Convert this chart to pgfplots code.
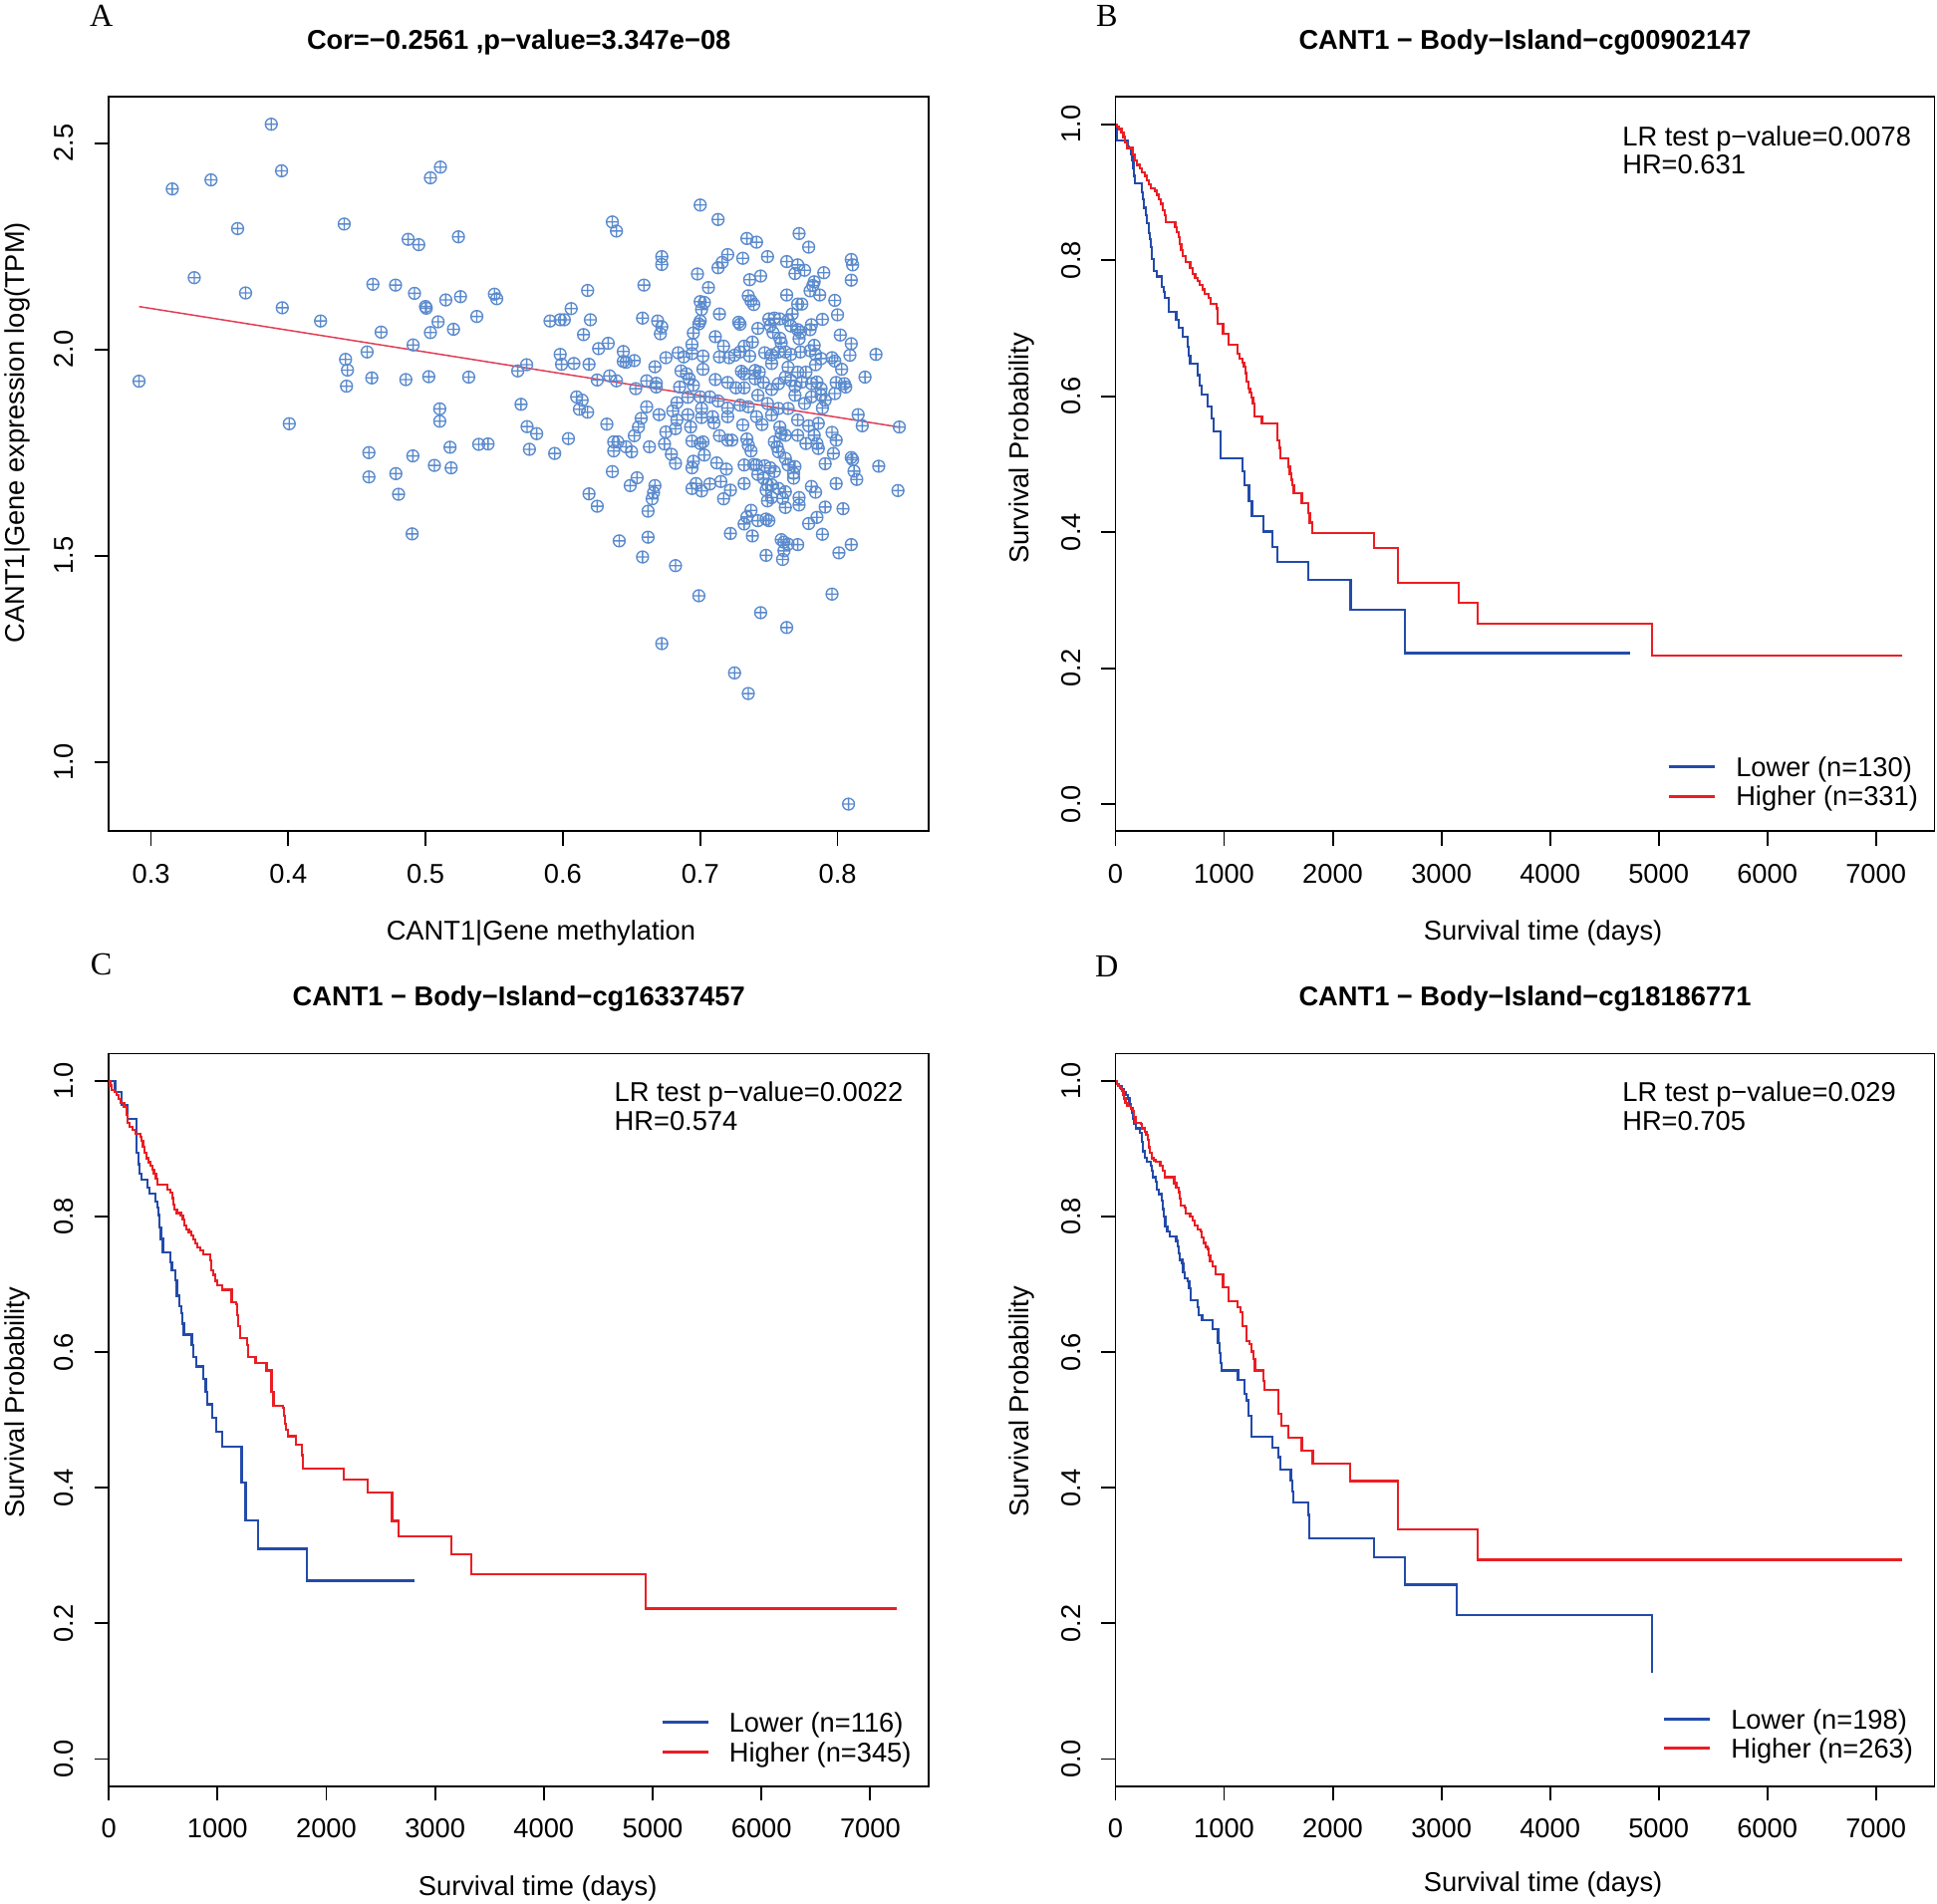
\documentclass[border=0pt]{standalone}
\usepackage{fontspec}
\setmainfont{Liberation Sans}
\newfontfamily\letterfont{Liberation Serif}
\usepackage{pgfplots}
\pgfplotsset{compat=1.18}

\definecolor{kmblue}{RGB}{35,75,170}
\definecolor{kmred}{RGB}{235,30,35}
\definecolor{scatblue}{RGB}{91,139,206}
\definecolor{regred}{RGB}{225,60,85}

\newcommand{\fs}{\fontsize{11}{13}\selectfont}
\newcommand{\lrfont}{\fontsize{11}{11.5}\selectfont}

\pgfplotsset{
 rbase/.style={
  scale only axis, clip=true,
  axis line style={line width=0.75pt},
  tick style={line width=0.75pt, black},
  tick align=outside, major tick length=5.8pt, tick pos=left,
  minor tick num=0,
  label style={font=\fs, inner sep=0pt},
  tick label style={font=\fs},
  /pgf/number format/assume math mode=true,
  xticklabel style={inner sep=0pt, anchor=north},
  yticklabel style={inner sep=0pt, rotate=90, anchor=south},
  xticklabel shift=7.2pt, yticklabel shift=8.2pt,
  every axis title shift=0pt,
  title style={font=\bfseries\fs, inner sep=0pt, anchor=base, at={(axis description cs:0.5,1.065)}},
  scaled ticks=false,
 },
 km/.style={rbase,
  xmin=0, xmax=7540, ymin=-0.04, ymax=1.04,
  xtick={0,1000,2000,3000,4000,5000,6000,7000},
  xticklabels={0,1000,2000,3000,4000,5000,6000,7000},
  ytick={0,0.2,0.4,0.6,0.8,1.0}, yticklabels={0.0,0.2,0.4,0.6,0.8,1.0},
  xlabel={Survival time (days)}, ylabel={Survival Probability},
  legend cell align=left,
  legend image code/.code={\draw[##1, line width=1.2pt] (0pt,0pt) -- (18.5pt,0pt);},
  legend style={draw=none, fill=none, inner sep=0pt, outer sep=0pt, row sep=3.75pt, column sep=8pt, font=\fs, nodes={inner sep=0pt, text height=8pt, text depth=0pt}},
 },
 kmb/.style={const plot, kmblue, line width=0.9pt},
 kmr/.style={const plot, kmred, line width=0.9pt},
}

\begin{document}
\begin{tikzpicture}
\path (0,0) rectangle (784pt,-770.5pt);

\node[font=\letterfont\fontsize{13}{15}\selectfont, anchor=base, inner sep=0pt] at (41pt,-10.5pt) {A};
\node[font=\letterfont\fontsize{13}{15}\selectfont, anchor=base, inner sep=0pt] at (448pt,-10.5pt) {B};
\node[font=\letterfont\fontsize{13}{15}\selectfont, anchor=base, inner sep=0pt] at (41pt,-394.5pt) {C};
\node[font=\letterfont\fontsize{13}{15}\selectfont, anchor=base, inner sep=0pt] at (448pt,-395.5pt) {D};

% ---------------- Panel A ----------------
\begin{axis}[rbase, at={(44pt,-336.5pt)}, anchor=south west, width=332pt, height=297.25pt,
  xmin=0.2692, xmax=0.8666, ymin=0.832, ymax=2.612,
  xtick={0.3,0.4,0.5,0.6,0.7,0.8}, xticklabels={0.3,0.4,0.5,0.6,0.7,0.8},
  ytick={1.0,1.5,2.0,2.5}, yticklabels={1.0,1.5,2.0,2.5},
  title={Cor=−0.2561 ,p−value=3.347e−08},
  xlabel={CANT1|Gene methylation}, ylabel={CANT1|Gene expression log(TPM)},
  xlabel style={at={(axis description cs:0.527,-0.148)}, anchor=base},
  ylabel style={at={(axis description cs:-0.1024,0.543)}, anchor=base}]
\addplot[only marks, mark=oplus, mark size=2.4pt, scatblue, mark options={line width=0.55pt}] coordinates {
(0.2913,1.923)(0.3155,2.389)(0.3437,2.411)(0.3876,2.546)(0.3951,2.433)(0.3631,2.293)(0.3315,2.174)(0.3689,2.137)(0.3956,2.101)(0.4007,1.820)(0.4235,2.069)(0.4407,2.304)(0.4417,1.976)(0.4431,1.950)(0.4424,1.911)(0.4574,1.994)(0.4616,2.158)(0.4608,1.931)(0.4676,2.042)(0.4781,2.156)(0.4873,2.267)(0.4950,2.254)(0.4919,2.136)(0.4999,2.104)(0.5005,2.100)(0.4909,2.011)(0.4856,1.927)(0.5023,1.934)(0.5035,2.416)(0.5108,2.442)(0.5091,2.067)(0.5035,2.041)(0.5147,2.120)(0.5254,2.128)(0.5203,2.049)(0.5239,2.273)(0.5373,2.080)(0.5501,2.134)(0.5518,2.123)(0.5314,1.933)(0.5103,1.856)(0.5103,1.826)(0.4587,1.750)(0.4907,1.742)(0.4587,1.691)(0.4783,1.699)(0.4803,1.649)(0.4902,1.553)(0.5064,1.719)(0.5186,1.713)(0.5178,1.763)(0.5387,1.770)(0.5455,1.771)(0.5671,1.948)(0.5736,1.963)(0.5695,1.867)(0.5739,1.813)(0.5809,1.796)(0.5756,1.758)(0.5940,1.748)(0.5906,2.069)
(0.700,2.350)(0.713,2.315)(0.636,2.309)(0.639,2.287)(0.772,2.281)(0.734,2.269)(0.741,2.260)(0.779,2.248)(0.720,2.230)(0.716,2.211)(0.713,2.198)(0.731,2.221)(0.749,2.225)(0.672,2.225)(0.672,2.206)(0.763,2.213)(0.771,2.205)(0.776,2.192)(0.769,2.184)(0.810,2.218)(0.811,2.205)(0.810,2.168)(0.790,2.186)(0.698,2.183)(0.744,2.178)(0.736,2.169)(0.659,2.156)(0.618,2.143)(0.706,2.150)(0.783,2.164)(0.782,2.155)(0.780,2.142)(0.787,2.132)(0.763,2.132)(0.735,2.130)(0.737,2.118)(0.739,2.109)(0.798,2.119)(0.700,2.116)(0.703,2.114)(0.701,2.097)(0.771,2.110)(0.774,2.110)(0.606,2.099)(0.714,2.086)(0.800,2.084)(0.767,2.086)(0.598,2.072)(0.601,2.072)(0.620,2.072)(0.658,2.076)(0.669,2.069)(0.672,2.055)(0.671,2.038)(0.700,2.069)(0.699,2.062)(0.728,2.066)(0.729,2.061)(0.750,2.074)(0.754,2.076)(0.758,2.074)(0.764,2.071)(0.751,2.058)(0.753,2.041)(0.766,2.057)(0.771,2.048)(0.773,2.042)(0.772,2.026)(0.781,2.060)(0.780,2.048)(0.789,2.073)(0.742,2.051)(0.695,2.040)(0.711,2.031)(0.615,2.036)(0.802,2.035)(0.758,2.027)(0.759,2.016)(0.810,2.014)(0.633,2.015)(0.626,2.002)(0.694,2.012)(0.717,2.008)(0.738,2.018)(0.783,2.010)(0.598,1.988)(0.644,1.995)(0.644,1.971)(0.646,1.969)(0.652,1.973)(0.684,1.992)(0.688,1.982)(0.694,1.990)(0.702,1.984)(0.714,1.982)(0.721,1.980)(0.725,1.986)(0.729,1.994)(0.732,2.008)(0.736,1.984)(0.747,1.992)(0.752,1.987)(0.757,1.994)(0.762,1.994)(0.766,1.988)(0.773,1.994)(0.780,1.997)(0.784,1.988)(0.788,1.978)(0.784,1.963)(0.796,1.980)(0.798,1.972)(0.803,1.952)(0.809,1.986)(0.828,1.988)(0.599,1.964)(0.608,1.966)(0.619,1.964)(0.667,1.958)(0.675,1.980)(0.686,1.948)(0.690,1.941)(0.692,1.929)(0.702,1.952)(0.730,1.947)(0.732,1.941)(0.740,1.949)(0.743,1.945)(0.752,1.966)(0.764,1.957)(0.771,1.945)(0.777,1.945)(0.820,1.933)(0.625,1.926)(0.634,1.936)(0.639,1.924)(0.653,1.905)(0.661,1.924)(0.668,1.909)(0.668,1.918)(0.685,1.909)(0.695,1.913)(0.711,1.927)(0.720,1.920)(0.726,1.907)(0.732,1.907)(0.740,1.929)(0.746,1.920)(0.752,1.903)(0.757,1.917)(0.762,1.933)(0.766,1.925)(0.769,1.911)(0.774,1.921)(0.781,1.917)(0.785,1.921)(0.788,1.905)(0.799,1.920)(0.806,1.909)(0.805,1.917)(0.610,1.885)(0.614,1.877)(0.612,1.855)(0.618,1.848)(0.661,1.861)(0.670,1.842)(0.680,1.851)(0.683,1.871)(0.691,1.884)(0.700,1.885)(0.707,1.885)(0.713,1.875)(0.720,1.858)(0.729,1.865)(0.735,1.861)(0.742,1.889)(0.749,1.869)(0.757,1.857)(0.764,1.857)(0.769,1.889)(0.776,1.869)(0.781,1.885)(0.788,1.889)(0.791,1.877)(0.789,1.858)(0.798,1.893)(0.815,1.842)(0.818,1.815)(0.845,1.812)(0.632,1.819)(0.657,1.833)(0.655,1.812)(0.652,1.791)(0.683,1.829)(0.682,1.808)(0.693,1.812)(0.691,1.842)(0.701,1.857)(0.701,1.835)(0.709,1.837)(0.710,1.822)(0.720,1.837)(0.731,1.817)(0.741,1.837)(0.745,1.818)(0.752,1.841)(0.758,1.812)(0.759,1.796)(0.762,1.792)(0.771,1.829)(0.771,1.792)(0.779,1.815)(0.786,1.821)(0.783,1.792)(0.796,1.799)(0.799,1.780)(0.604,1.784)(0.637,1.776)(0.640,1.776)(0.637,1.754)(0.646,1.764)(0.650,1.752)(0.663,1.764)(0.674,1.771)(0.675,1.800)(0.679,1.746)(0.694,1.778)(0.700,1.772)(0.702,1.776)(0.703,1.744)(0.714,1.791)(0.720,1.780)(0.723,1.780)(0.734,1.783)(0.735,1.768)(0.737,1.754)(0.754,1.776)(0.756,1.764)(0.757,1.752)(0.777,1.772)(0.785,1.772)(0.786,1.760)(0.797,1.748)(0.810,1.738)
(0.636,1.704)(0.619,1.650)(0.625,1.620)(0.649,1.670)(0.654,1.689)(0.667,1.670)(0.666,1.653)(0.665,1.638)(0.662,1.608)(0.682,1.724)(0.694,1.713)(0.695,1.729)(0.694,1.663)(0.697,1.675)(0.701,1.657)(0.707,1.674)(0.715,1.680)(0.712,1.725)(0.719,1.710)(0.717,1.638)(0.722,1.659)(0.732,1.675)(0.732,1.720)(0.739,1.721)(0.741,1.720)(0.747,1.718)(0.751,1.713)(0.754,1.704)(0.742,1.697)(0.746,1.688)(0.749,1.672)(0.752,1.672)(0.757,1.663)(0.762,1.655)(0.748,1.659)(0.749,1.633)(0.752,1.641)(0.760,1.639)(0.762,1.617)(0.762,1.736)(0.764,1.720)(0.769,1.716)(0.768,1.700)(0.768,1.688)(0.772,1.641)(0.772,1.623)(0.781,1.668)(0.784,1.654)(0.791,1.723)(0.799,1.675)(0.811,1.733)(0.812,1.705)(0.814,1.685)(0.830,1.717)(0.844,1.658)(0.737,1.610)(0.734,1.594)(0.732,1.577)(0.742,1.585)(0.748,1.589)(0.750,1.585)(0.722,1.554)(0.738,1.548)(0.779,1.578)(0.785,1.593)(0.791,1.618)(0.804,1.614)(0.789,1.552)(0.759,1.539)(0.761,1.533)(0.764,1.528)(0.771,1.527)(0.761,1.512)(0.748,1.501)(0.760,1.491)(0.801,1.507)(0.810,1.527)(0.641,1.536)(0.662,1.545)(0.658,1.497)(0.682,1.476)(0.699,1.403)(0.796,1.407)(0.744,1.362)(0.763,1.326)(0.672,1.287)(0.725,1.216)(0.735,1.166)(0.808,0.898)
};
\addplot[regred, line width=0.6pt] coordinates {(0.2913,2.104) (0.8445,1.812)};
\end{axis}

% ---------------- Panel B ----------------
\begin{axis}[km, at={(451.5pt,-336.5pt)}, anchor=south west, width=331.5pt, height=297.25pt,
  title={CANT1 − Body−Island−cg00902147},
  xlabel style={at={(axis description cs:0.522,-0.148)}, anchor=base},
  ylabel style={at={(axis description cs:-0.1056,0.5215)}, anchor=base},
  legend style={at={(axis description cs:0.674,0.1009)}, anchor=north west}]
\addplot[kmb] coordinates {(0,1.000)(12,0.976)(109,0.967)(125,0.964)(140,0.955)(155,0.947)(164,0.935)(170,0.924)(179,0.913)(246,0.900)(255,0.889)(264,0.877)(277,0.866)(292,0.854)(307,0.840)(316,0.831)(328,0.819)(337,0.802)(353,0.784)(377,0.776)(423,0.761)(444,0.753)(456,0.744)(492,0.724)(559,0.712)(581,0.700)(620,0.687)(663,0.673)(675,0.660)(687,0.648)(754,0.631)(772,0.616)(793,0.602)(845,0.585)(888,0.567)(900,0.548)(970,0.509)(1167,0.490)(1189,0.469)(1228,0.446)(1256,0.424)(1365,0.401)(1441,0.378)(1490,0.356)(1778,0.330)(2164,0.286)(2666,0.222)(4734,0.222)};
\addlegendentry{Lower (n=130)}
\addplot[kmr] coordinates {(0,1.000)(12,0.997)(33,0.993)(55,0.988)(73,0.981)(88,0.973)(103,0.965)(161,0.955)(179,0.947)(195,0.940)(225,0.935)(246,0.929)(268,0.924)(286,0.917)(307,0.911)(328,0.906)(359,0.902)(377,0.896)(398,0.890)(420,0.883)(438,0.874)(453,0.866)(465,0.856)(550,0.848)(565,0.841)(581,0.834)(593,0.824)(605,0.815)(617,0.806)(648,0.797)(687,0.789)(711,0.780)(733,0.774)(754,0.769)(778,0.763)(800,0.757)(818,0.750)(854,0.744)(879,0.736)(930,0.729)(942,0.706)(991,0.692)(1040,0.676)(1125,0.663)(1143,0.655)(1167,0.649)(1183,0.643)(1195,0.634)(1207,0.621)(1222,0.611)(1237,0.605)(1252,0.598)(1265,0.589)(1280,0.570)(1347,0.560)(1493,0.535)(1508,0.524)(1520,0.509)(1590,0.496)(1605,0.486)(1617,0.477)(1629,0.469)(1642,0.457)(1715,0.443)(1772,0.428)(1788,0.414)(1812,0.399)(2377,0.377)(2602,0.325)(3162,0.296)(3331,0.265)(4937,0.218)(7244,0.218)};
\addlegendentry{Higher (n=331)}
\node[anchor=north west, inner sep=0pt, align=left, font=\lrfont] at (axis description cs:0.6184,0.9613) {LR test p−value=0.0078\\HR=0.631};
\end{axis}

% ---------------- Panel C ----------------
\begin{axis}[km, at={(44pt,-723pt)}, anchor=south west, width=332pt, height=296.5pt,
  title={CANT1 − Body−Island−cg16337457},
  xlabel style={at={(axis description cs:0.523,-0.149)}, anchor=base},
  ylabel style={at={(axis description cs:-0.1024,0.5236)}, anchor=base},
  legend style={at={(axis description cs:0.673,0.1003)}, anchor=north west}]
\addplot[kmb] coordinates {(0,1.000)(58,0.983)(116,0.964)(170,0.944)(255,0.894)(271,0.877)(283,0.863)(298,0.854)(353,0.842)(377,0.834)(432,0.822)(447,0.813)(459,0.802)(468,0.784)(480,0.767)(499,0.747)(565,0.732)(581,0.721)(614,0.706)(626,0.683)(651,0.668)(666,0.657)(678,0.642)(690,0.626)(763,0.610)(778,0.593)(803,0.579)(869,0.561)(891,0.541)(906,0.523)(952,0.503)(988,0.483)(1043,0.461)(1222,0.408)(1259,0.352)(1374,0.310)(1821,0.263)(2815,0.263)};
\addlegendentry{Lower (n=116)}
\addplot[kmr] coordinates {(0,1.000)(12,0.993)(30,0.987)(55,0.984)(73,0.979)(91,0.973)(109,0.967)(140,0.961)(164,0.950)(173,0.938)(188,0.932)(216,0.928)(246,0.922)(289,0.917)(301,0.911)(316,0.903)(328,0.894)(344,0.886)(365,0.880)(383,0.875)(401,0.869)(416,0.863)(435,0.856)(450,0.847)(541,0.840)(565,0.835)(584,0.827)(593,0.818)(605,0.810)(626,0.805)(663,0.801)(681,0.795)(693,0.787)(711,0.781)(736,0.777)(757,0.772)(778,0.766)(796,0.760)(815,0.754)(839,0.750)(869,0.744)(930,0.735)(942,0.721)(961,0.714)(979,0.705)(994,0.699)(1043,0.692)(1131,0.674)(1170,0.671)(1180,0.654)(1192,0.638)(1207,0.621)(1271,0.610)(1283,0.593)(1350,0.584)(1450,0.573)(1496,0.541)(1514,0.521)(1599,0.518)(1608,0.506)(1620,0.494)(1632,0.485)(1645,0.476)(1718,0.464)(1775,0.448)(1788,0.428)(2164,0.412)(2380,0.393)(2605,0.351)(2666,0.328)(3150,0.302)(3331,0.273)(4938,0.222)(7240,0.222)};
\addlegendentry{Higher (n=345)}
\node[anchor=north west, inner sep=0pt, align=left, font=\lrfont] at (axis description cs:0.616,0.962) {LR test p−value=0.0022\\HR=0.574};
\end{axis}

% ---------------- Panel D ----------------
\begin{axis}[km, at={(451.5pt,-723pt)}, anchor=south west, width=331.5pt, height=296.5pt,
  title={CANT1 − Body−Island−cg18186771},
  xlabel style={at={(axis description cs:0.522,-0.144)}, anchor=base},
  ylabel style={at={(axis description cs:-0.1056,0.525)}, anchor=base},
  legend style={at={(axis description cs:0.668,0.1054)}, anchor=north west}]
\addplot[kmb] coordinates {(0,1.000)(12,0.995)(33,0.992)(55,0.988)(73,0.984)(91,0.979)(116,0.974)(128,0.966)(140,0.960)(155,0.953)(161,0.944)(170,0.936)(185,0.930)(225,0.923)(243,0.910)(255,0.896)(271,0.887)(292,0.881)(322,0.875)(331,0.867)(347,0.858)(371,0.851)(380,0.840)(401,0.833)(426,0.823)(438,0.811)(447,0.800)(459,0.785)(477,0.778)(496,0.771)(559,0.764)(572,0.756)(584,0.746)(593,0.736)(614,0.731)(623,0.718)(638,0.709)(666,0.704)(678,0.694)(690,0.677)(754,0.666)(769,0.655)(797,0.647)(891,0.634)(945,0.613)(955,0.599)(967,0.584)(979,0.573)(1128,0.559)(1189,0.538)(1204,0.529)(1222,0.506)(1253,0.475)(1447,0.459)(1496,0.445)(1520,0.427)(1614,0.411)(1626,0.395)(1639,0.378)(1772,0.360)(1784,0.325)(2380,0.297)(2666,0.257)(3139,0.212)(4938,0.127)};
\addlegendentry{Lower (n=198)}
\addplot[kmr] coordinates {(0,1.000)(12,0.995)(27,0.992)(43,0.989)(61,0.985)(73,0.980)(79,0.974)(91,0.967)(109,0.963)(140,0.959)(161,0.956)(170,0.947)(182,0.938)(231,0.936)(240,0.930)(268,0.925)(283,0.920)(295,0.913)(307,0.902)(319,0.894)(331,0.886)(353,0.883)(371,0.881)(413,0.875)(432,0.867)(453,0.858)(541,0.849)(559,0.843)(581,0.836)(590,0.826)(602,0.816)(638,0.813)(648,0.804)(687,0.800)(711,0.794)(727,0.787)(754,0.781)(784,0.778)(796,0.769)(812,0.761)(827,0.755)(851,0.752)(860,0.743)(872,0.734)(894,0.726)(921,0.715)(991,0.696)(1040,0.675)(1122,0.666)(1152,0.659)(1167,0.638)(1204,0.616)(1234,0.612)(1252,0.601)(1271,0.590)(1283,0.573)(1362,0.558)(1371,0.544)(1496,0.509)(1526,0.491)(1593,0.474)(1715,0.455)(1815,0.436)(2161,0.410)(2602,0.339)(3331,0.294)(7240,0.294)};
\addlegendentry{Higher (n=263)}
\node[anchor=north west, inner sep=0pt, align=left, font=\lrfont] at (axis description cs:0.6184,0.962) {LR test p−value=0.029\\HR=0.705};
\end{axis}
\end{tikzpicture}
\end{document}
